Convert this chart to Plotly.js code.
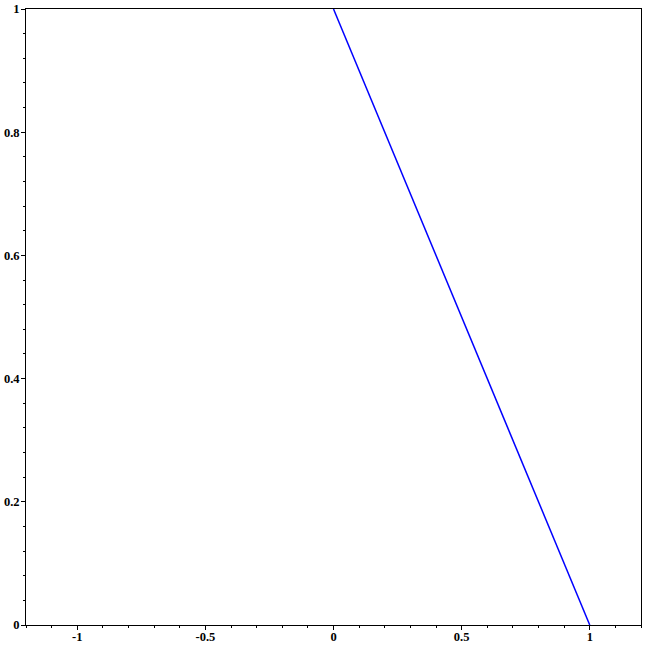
<!DOCTYPE html>
<html>
<head>
<meta charset="utf-8">
<script src="https://cdn.plot.ly/plotly-3.0.1.min.js"></script>
<style>html,body{margin:0;padding:0;background:#fff;}#chart{width:645px;height:645px;}</style>
</head>
<body>
<div id="chart"></div>
<script>
const xValues = [0, 1];
const yValues = [1, 0];
const xTickVals = [-1, -0.5, 0, 0.5, 1];
const xTickText = ["-1", "-0.5", "0", "0.5", "1"];
const yTickVals = [0, 0.2, 0.4, 0.6, 0.8, 1];
const yTickText = ["0", "0.2", "0.4", "0.6", "0.8", "1"];

const tickFont = {family: "Liberation Serif, Times New Roman, serif", size: 12.5, color: "#000", weight: "bold"};

Plotly.newPlot("chart", [{
  x: xValues, y: yValues, type: "scatter", mode: "lines",
  line: {color: "rgb(0,0,255)", width: 1.5}, hoverinfo: "skip"
}], {
  width: 645, height: 645,
  margin: {l: 26, r: 4, t: 9, b: 20, pad: 0},
  paper_bgcolor: "#fff", plot_bgcolor: "#fff",
  showlegend: false,
  xaxis: {
    range: [-1.2, 1.2], showgrid: false, zeroline: false,
    showline: true, linecolor: "#000", linewidth: 1, mirror: true,
    ticks: "outside", ticklen: 4, tickwidth: 1, tickcolor: "#000",
    tickmode: "array", tickvals: xTickVals, ticktext: xTickText,
    tickfont: tickFont, ticklabelstandoff: -4,
    minor: {tick0: 0, dtick: 0.1, ticks: "outside", ticklen: 2, tickwidth: 1, tickcolor: "#000", showgrid: false}
  },
  yaxis: {
    range: [0, 1], showgrid: false, zeroline: false,
    showline: true, linecolor: "#000", linewidth: 1, mirror: true,
    ticks: "outside", ticklen: 4, tickwidth: 1, tickcolor: "#000",
    tickmode: "array", tickvals: yTickVals, ticktext: yTickText,
    tickfont: tickFont, ticklabelstandoff: -1,
    minor: {tick0: 0, dtick: 0.04, ticks: "outside", ticklen: 2, tickwidth: 1, tickcolor: "#000", showgrid: false}
  }
}, {staticPlot: true});
</script>
</body>
</html>
